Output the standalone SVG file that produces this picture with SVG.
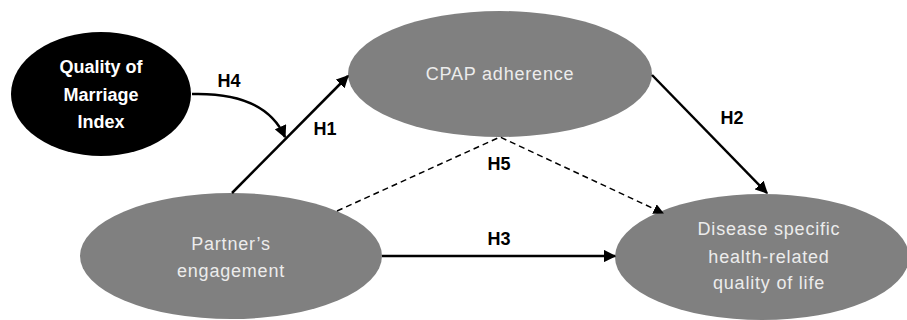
<svg xmlns="http://www.w3.org/2000/svg" width="907" height="320" viewBox="0 0 907 320">
<defs>
<style>
.gray{fill:#808080;}
.blk{fill:#000;}
.nt{font-family:"Liberation Sans",Arial,sans-serif;font-size:18px;letter-spacing:0.8px;fill:#ececec;text-anchor:middle;}
.bt{font-family:"Liberation Sans",Arial,sans-serif;font-size:18px;font-weight:bold;fill:#fff;text-anchor:middle;}
.lab{font-family:"Liberation Sans",Arial,sans-serif;font-size:18px;font-weight:bold;fill:#000;text-anchor:middle;}
.ln{stroke:#000;stroke-width:2.5;fill:none;}
.dash{stroke:#000;stroke-width:1.5;fill:none;stroke-dasharray:6,4;}
</style>
<marker id="ah" viewBox="0 0 10 10" refX="9" refY="5" markerWidth="5" markerHeight="5" markerUnits="strokeWidth" orient="auto">
<path d="M0,0 L10,5 L0,10 z" fill="#000"/>
</marker>
<marker id="ahd" viewBox="0 0 10 10" refX="9" refY="5" markerWidth="7" markerHeight="7" markerUnits="strokeWidth" orient="auto">
<path d="M0,0 L10,5 L0,10 z" fill="#000"/>
</marker>
</defs>
<rect width="907" height="320" fill="#fff"/>
<g id="qmi">
<ellipse class="blk" cx="101" cy="94" rx="90" ry="62"/>
<text class="bt" x="101" y="73">Quality of</text>
<text class="bt" x="101" y="101">Marriage</text>
<text class="bt" x="101" y="128">Index</text>
</g>
<g id="cpap">
<ellipse class="gray" cx="500" cy="74" rx="152" ry="63"/>
<text class="nt" x="500" y="80">CPAP adherence</text>
</g>
<g id="partner">
<ellipse class="gray" cx="231" cy="256" rx="151" ry="63"/>
<text class="nt" x="231" y="250">Partner’s</text>
<text class="nt" x="231" y="277">engagement</text>
</g>
<g id="hrqol">
<ellipse class="gray" cx="762" cy="257" rx="147" ry="63"/>
<text class="nt" x="769" y="235">Disease specific</text>
<text class="nt" x="769" y="263">health-related</text>
<text class="nt" x="769" y="289">quality of life</text>
</g>
<g id="connectors">
<line class="ln" x1="232" y1="193" x2="348" y2="76" marker-end="url(#ah)"/>
<path class="ln" d="M192,94 Q265,92 285,137" marker-end="url(#ah)"/>
<line class="ln" x1="652" y1="75" x2="767" y2="193" marker-end="url(#ah)"/>
<line class="ln" x1="382" y1="256" x2="615" y2="256" marker-end="url(#ah)"/>
<path class="dash" d="M337,211 L500,137 L663,213" marker-end="url(#ahd)"/>
<text class="lab" x="229" y="87">H4</text>
<text class="lab" x="325" y="135">H1</text>
<text class="lab" x="732" y="124">H2</text>
<text class="lab" x="499" y="170">H5</text>
<text class="lab" x="499" y="245">H3</text>
</g>
</svg>
